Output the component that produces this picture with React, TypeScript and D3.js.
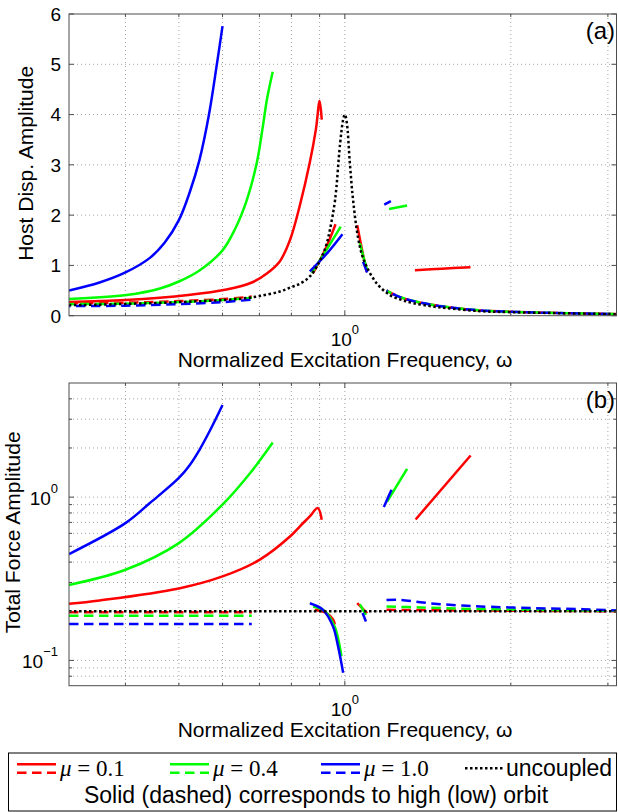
import React, { useEffect, useRef } from 'react';
import * as d3 from 'd3';

type Pt = [number, number];

const W = 618;
const H = 812;

// shared log x axis (normalized excitation frequency)
const xDomain: Pt = [0.316, 3.11];
const xMajorTicks = [1];
const xMinorTicks = [0.4, 0.5, 0.6, 0.7, 0.8, 0.9, 2, 3];

// panel (a) y ticks
const hostTicks = [0, 1, 2, 3, 4, 5, 6];
// panel (b) y ticks (log)
const forceDomain: Pt = [0.07, 5];
const forceMajorTicks = [0.1, 1];
const forceMinorTicks = [0.08, 0.09, 0.2, 0.3, 0.4, 0.5, 0.6, 0.7, 0.8, 0.9, 2, 3, 4];

// ---- (a) host displacement amplitude: [omega, amplitude] ----
const hostUncoupled: Pt[] = [
  [0.316, 0.21], [0.359, 0.22], [0.4, 0.235], [0.45, 0.25], [0.5, 0.27], [0.55, 0.29],
  [0.6, 0.31], [0.65, 0.34], [0.7, 0.39], [0.762, 0.48], [0.8, 0.57], [0.83, 0.64],
  [0.864, 0.78], [0.9, 1.08], [0.925, 1.4], [0.94, 1.72], [0.96, 2.3], [0.98, 3.4],
  [0.993, 3.9], [1.0, 4.0], [1.008, 3.85], [1.021, 3.05], [1.035, 2.3], [1.056, 1.57],
  [1.075, 1.2], [1.096, 0.97], [1.143, 0.64], [1.207, 0.41], [1.27, 0.31], [1.33, 0.25],
  [1.43, 0.19], [1.53, 0.15], [1.76, 0.09], [2.0, 0.07], [2.46, 0.05], [3.11, 0.03],
];

const hostMu01High: Pt[][] = [
  [[0.316, 0.27], [0.4, 0.31], [0.52, 0.41], [0.61, 0.52], [0.678, 0.66], [0.722, 0.84],
   [0.762, 1.08], [0.795, 1.5], [0.829, 2.2], [0.864, 3.05], [0.886, 3.7], [0.9, 4.27], [0.908, 3.9]],
  [[0.875, 0.84], [0.92, 1.3], [0.962, 1.82]],
  [[1.053, 1.8], [1.075, 1.3], [1.096, 0.87]],
  [[1.34, 0.905], [1.5, 0.935], [1.69, 0.965]],
];
const hostMu01Low: Pt[][] = [
  [[0.316, 0.25], [0.4, 0.26], [0.5, 0.29], [0.6, 0.33], [0.678, 0.38]],
  [[1.19, 0.5], [1.26, 0.37], [1.37, 0.26], [1.55, 0.165], [1.76, 0.105], [2.0, 0.078], [2.46, 0.052], [3.11, 0.032]],
];

const hostMu04High: Pt[][] = [
  [[0.316, 0.33], [0.402, 0.41], [0.462, 0.54], [0.5, 0.68], [0.545, 0.9], [0.6, 1.3], [0.632, 1.72],
   [0.664, 2.3], [0.692, 3.03], [0.71, 3.76], [0.722, 4.29], [0.74, 4.85]],
  [[0.871, 0.85], [0.925, 1.3], [0.983, 1.77]],
  [[1.065, 1.44], [1.082, 1.15], [1.098, 0.9]],
  [[1.203, 2.12], [1.297, 2.19]],
];
const hostMu04Low: Pt[][] = [
  [[0.316, 0.23], [0.4, 0.24], [0.5, 0.27], [0.6, 0.31], [0.678, 0.355]],
  [[1.19, 0.5], [1.26, 0.37], [1.37, 0.26], [1.55, 0.165], [1.76, 0.105], [2.0, 0.078], [2.46, 0.052], [3.11, 0.032]],
];

const hostMu10High: Pt[][] = [
  [[0.316, 0.5], [0.359, 0.66], [0.4, 0.86], [0.443, 1.15], [0.471, 1.45], [0.5, 1.9], [0.523, 2.45],
   [0.545, 3.1], [0.567, 4.0], [0.586, 5.0], [0.6, 5.76]],
  [[0.864, 0.88], [0.93, 1.25], [0.99, 1.62]],
  [[1.079, 1.07], [1.098, 0.86]],
  [[1.179, 2.21], [1.212, 2.28]],
];
const hostMu10Low: Pt[][] = [
  [[0.316, 0.19], [0.4, 0.2], [0.5, 0.23], [0.6, 0.27], [0.678, 0.32]],
  [[1.19, 0.5], [1.26, 0.37], [1.37, 0.26], [1.55, 0.165], [1.76, 0.105], [2.0, 0.078], [2.46, 0.052], [3.11, 0.032]],
];

// ---- (b) total force amplitude ----
const forceUncoupled: Pt[] = [[0.316, 0.2], [3.11, 0.2]];

const forceMu01High: Pt[][] = [
  [[0.316, 0.222], [0.359, 0.233], [0.5, 0.276], [0.6, 0.327], [0.7, 0.413], [0.798, 0.58],
   [0.829, 0.663], [0.864, 0.763], [0.893, 0.857], [0.908, 0.726]],
  [[0.882, 0.204], [0.926, 0.195], [0.952, 0.178], [0.959, 0.166]],
  [[1.053, 0.224], [1.098, 0.195]],
  [[1.344, 0.73], [1.691, 1.8]],
];
const forceMu01Low: Pt[][] = [
  [[0.316, 0.197], [0.678, 0.197]],
  [[1.19, 0.204], [1.76, 0.202], [3.11, 0.2]],
];

const forceMu04High: Pt[][] = [
  [[0.316, 0.29], [0.4, 0.359], [0.5, 0.523], [0.6, 0.9], [0.673, 1.4], [0.74, 2.16]],
  [[0.876, 0.214], [0.92, 0.2], [0.959, 0.16], [0.975, 0.13], [0.986, 0.106]],
  [[1.065, 0.22], [1.092, 0.19]],
  [[1.193, 0.94], [1.297, 1.49]],
];
const forceMu04Low: Pt[][] = [
  [[0.316, 0.188], [0.678, 0.188]],
  [[1.19, 0.214], [1.37, 0.211], [1.76, 0.206], [2.46, 0.203], [3.11, 0.201]],
];

const forceMu10High: Pt[][] = [
  [[0.316, 0.448], [0.4, 0.693], [0.443, 0.92], [0.5, 1.31], [0.523, 1.57], [0.545, 1.95], [0.569, 2.55], [0.6, 3.67]],
  [[0.864, 0.224], [0.913, 0.204], [0.952, 0.161], [0.972, 0.122], [0.993, 0.084]],
  [[1.077, 0.195], [1.092, 0.173]],
  [[1.177, 0.87], [1.215, 1.11]],
];
const forceMu10Low: Pt[][] = [
  [[0.316, 0.167], [0.678, 0.167]],
  [[1.19, 0.234], [1.26, 0.235], [1.37, 0.227], [1.49, 0.221], [1.62, 0.217], [1.76, 0.214],
   [2.19, 0.209], [2.7, 0.206], [3.11, 0.202]],
];

const legendLabels = ['0.1', '0.4', '1.0'];

const RED = '#ff0000';
const GREEN = '#00ff00';
const BLUE = '#0000ff';
const SANS = '"Liberation Sans", Arial, Helvetica, sans-serif';
const SERIF = '"Liberation Serif", "Times New Roman", serif';

const LEFT = 69;
const RIGHT = 616.5;
const DASH = '9.5,5.5';
const DOT = '2.5,2.5';
const LW = 2.5;

const App = () => {
  const svgRef = useRef<SVGSVGElement>(null);

  useEffect(() => {
    const svg = d3.select(svgRef.current);
    svg.selectAll('*').remove();

    const x = d3.scaleLog().domain(xDomain).range([LEFT, RIGHT]);

    const drawPanel = (cfg: any) => {
      const { id, top, bottom, y, majorY, minorY, series, uncoupled, yLabel, yLabelX, panelLabel, logY } = cfg;
      const g = svg.append('g');

      // grid (dotted)
      const gridX = [...xMinorTicks, ...xMajorTicks];
      gridX.forEach(v => {
        g.append('line')
          .attr('x1', x(v)).attr('x2', x(v)).attr('y1', top).attr('y2', bottom)
          .attr('stroke', '#9a9a9a').attr('stroke-width', 0.9).attr('stroke-dasharray', '1,3');
      });
      [...majorY, ...minorY].forEach((v: number) => {
        const yy = y(v);
        if (yy <= top + 0.5 || yy >= bottom - 0.5) return;
        g.append('line')
          .attr('x1', LEFT).attr('x2', RIGHT).attr('y1', yy).attr('y2', yy)
          .attr('stroke', '#9a9a9a').attr('stroke-width', 0.9).attr('stroke-dasharray', '1,3');
      });

      // data
      const clip = `clip-${id}`;
      g.append('clipPath').attr('id', clip)
        .append('rect').attr('x', LEFT).attr('y', top).attr('width', RIGHT - LEFT).attr('height', bottom - top);
      const plot = g.append('g').attr('clip-path', `url(#${clip})`);

      const line = d3.line<Pt>()
        .x(d => x(d[0]))
        .y(d => y(d[1]))
        .curve(d3.curveCatmullRom.alpha(0.5));

      series.forEach((s: any) => {
        s.high.forEach((seg: Pt[]) => {
          plot.append('path').attr('d', line(seg))
            .attr('fill', 'none').attr('stroke', s.color).attr('stroke-width', LW);
        });
        s.low.forEach((seg: Pt[]) => {
          plot.append('path').attr('d', line(seg))
            .attr('fill', 'none').attr('stroke', s.color).attr('stroke-width', LW)
            .attr('stroke-dasharray', DASH).attr('stroke-dashoffset', s.offset);
        });
      });
      plot.append('path').attr('d', line(uncoupled))
        .attr('fill', 'none').attr('stroke', '#000').attr('stroke-width', LW)
        .attr('stroke-dasharray', DOT);

      // frame
      g.append('rect')
        .attr('x', LEFT).attr('y', top).attr('width', RIGHT - LEFT).attr('height', bottom - top)
        .attr('fill', 'none').attr('stroke', '#4d4d4d').attr('stroke-width', 1);

      // x ticks (inward, top and bottom)
      const xt = [...xMajorTicks.map(v => [v, 5]), ...xMinorTicks.map(v => [v, 3])];
      xt.forEach(([v, len]) => {
        g.append('line').attr('x1', x(v)).attr('x2', x(v)).attr('y1', bottom).attr('y2', bottom - len)
          .attr('stroke', '#4d4d4d');
        g.append('line').attr('x1', x(v)).attr('x2', x(v)).attr('y1', top).attr('y2', top + len)
          .attr('stroke', '#4d4d4d');
      });
      // y ticks (inward, left and right)
      const yt = [...majorY.map((v: number) => [v, 5]), ...minorY.map((v: number) => [v, 3])];
      yt.forEach(([v, len]: number[]) => {
        const yy = y(v);
        g.append('line').attr('x1', LEFT).attr('x2', LEFT + len).attr('y1', yy).attr('y2', yy).attr('stroke', '#4d4d4d');
        g.append('line').attr('x1', RIGHT).attr('x2', RIGHT - len).attr('y1', yy).attr('y2', yy).attr('stroke', '#4d4d4d');
      });

      // x tick label 10^0
      xMajorTicks.forEach(v => {
        const t = g.append('text').attr('x', x(v)).attr('y', bottom + 30).attr('text-anchor', 'middle')
          .attr('font-family', SANS).attr('font-size', 19).attr('fill', '#000');
        t.append('tspan').text('10');
        t.append('tspan').attr('dy', -12).attr('font-size', 13).text(String(Math.round(Math.log10(v))));
      });

      // y tick labels
      if (logY) {
        majorY.forEach((v: number) => {
          const e = Math.round(Math.log10(v));
          const t = g.append('text').attr('x', 58).attr('y', y(v) + 7.5).attr('text-anchor', 'end')
            .attr('font-family', SANS).attr('font-size', 19).attr('fill', '#000');
          t.append('tspan').text('10');
          t.append('tspan').attr('dy', -12).attr('font-size', 13).text(e < 0 ? `\u2212${-e}` : String(e));
        });
      } else {
        majorY.forEach((v: number) => {
          g.append('text').attr('x', 61).attr('y', y(v) + 6.8).attr('text-anchor', 'end')
            .attr('font-family', SANS).attr('font-size', 19).attr('fill', '#000').text(String(v));
        });
      }

      // axis labels
      g.append('text').attr('x', 345).attr('y', bottom + 51.6).attr('text-anchor', 'middle')
        .attr('font-family', SANS).attr('font-size', 21).attr('fill', '#000')
        .text('Normalized Excitation Frequency, \u03c9');
      g.append('text')
        .attr('transform', `translate(${yLabelX}, ${(top + bottom) / 2 + (logY ? -2 : -1.5)}) rotate(-90)`)
        .attr('text-anchor', 'middle')
        .attr('font-family', SANS).attr('font-size', 21).attr('fill', '#000')
        .text(yLabel);
      g.append('text').attr('x', 615).attr('y', top + 24.5).attr('text-anchor', 'end')
        .attr('font-family', SANS).attr('font-size', 24).attr('fill', '#000').text(panelLabel);
    };

    const yA = d3.scaleLinear().domain([0, 6]).range([315.7, 14]);
    const yB = d3.scaleLog().domain(forceDomain).range([685.7, 383]);

    drawPanel({
      id: 'a', top: 14, bottom: 315.7, y: yA, majorY: hostTicks, minorY: [], logY: false,
      uncoupled: hostUncoupled, yLabel: 'Host Disp. Amplitude', yLabelX: 33, panelLabel: '(a)',
      series: [
        { color: RED, high: hostMu01High, low: hostMu01Low, offset: 0 },
        { color: GREEN, high: hostMu04High, low: hostMu04Low, offset: 4 },
        { color: BLUE, high: hostMu10High, low: hostMu10Low, offset: 8 },
      ],
    });
    drawPanel({
      id: 'b', top: 383, bottom: 685.7, y: yB, majorY: forceMajorTicks, minorY: forceMinorTicks, logY: true,
      uncoupled: forceUncoupled, yLabel: 'Total Force Amplitude', yLabelX: 19.5, panelLabel: '(b)',
      series: [
        { color: RED, high: forceMu01High, low: forceMu01Low, offset: 0 },
        { color: GREEN, high: forceMu04High, low: forceMu04Low, offset: 0 },
        { color: BLUE, high: forceMu10High, low: forceMu10Low, offset: 0 },
      ],
    });

    // legend
    const lg = svg.append('g');
    lg.append('rect').attr('x', 8.5).attr('y', 753).attr('width', 608).attr('height', 58)
      .attr('fill', '#fff').attr('stroke', '#000').attr('stroke-width', 1);
    const items = [
      { color: RED, x0: 17, label: legendLabels[0] },
      { color: GREEN, x0: 170, label: legendLabels[1] },
      { color: BLUE, x0: 321, label: legendLabels[2] },
    ];
    items.forEach(it => {
      lg.append('line').attr('x1', it.x0).attr('x2', it.x0 + 39).attr('y1', 764.3).attr('y2', 764.3)
        .attr('stroke', it.color).attr('stroke-width', LW);
      lg.append('line').attr('x1', it.x0).attr('x2', it.x0 + 39).attr('y1', 772.7).attr('y2', 772.7)
        .attr('stroke', it.color).attr('stroke-width', LW).attr('stroke-dasharray', DASH);
      const t = lg.append('text').attr('x', it.x0 + 43).attr('y', 775.5)
        .attr('font-family', SERIF).attr('font-size', 23).attr('fill', '#000');
      t.append('tspan').attr('font-style', 'italic').text('\u03bc');
      t.append('tspan').text(` = ${it.label}`);
    });
    lg.append('line').attr('x1', 465).attr('x2', 504).attr('y1', 768.3).attr('y2', 768.3)
      .attr('stroke', '#000').attr('stroke-width', LW).attr('stroke-dasharray', DOT);
    lg.append('text').attr('x', 506).attr('y', 776).attr('font-family', SANS).attr('font-size', 23)
      .attr('fill', '#000').text('uncoupled');
    lg.append('text').attr('x', 316).attr('y', 803).attr('text-anchor', 'middle')
      .attr('font-family', SANS).attr('font-size', 23).attr('fill', '#000')
      .text('Solid (dashed) corresponds to high (low) orbit');
  }, []);

  return (
    <svg
      ref={svgRef}
      width={W}
      height={H}
      style={{ position: 'absolute', left: 0, top: 0, background: '#fff', display: 'block' }}
    />
  );
};

export default App;
